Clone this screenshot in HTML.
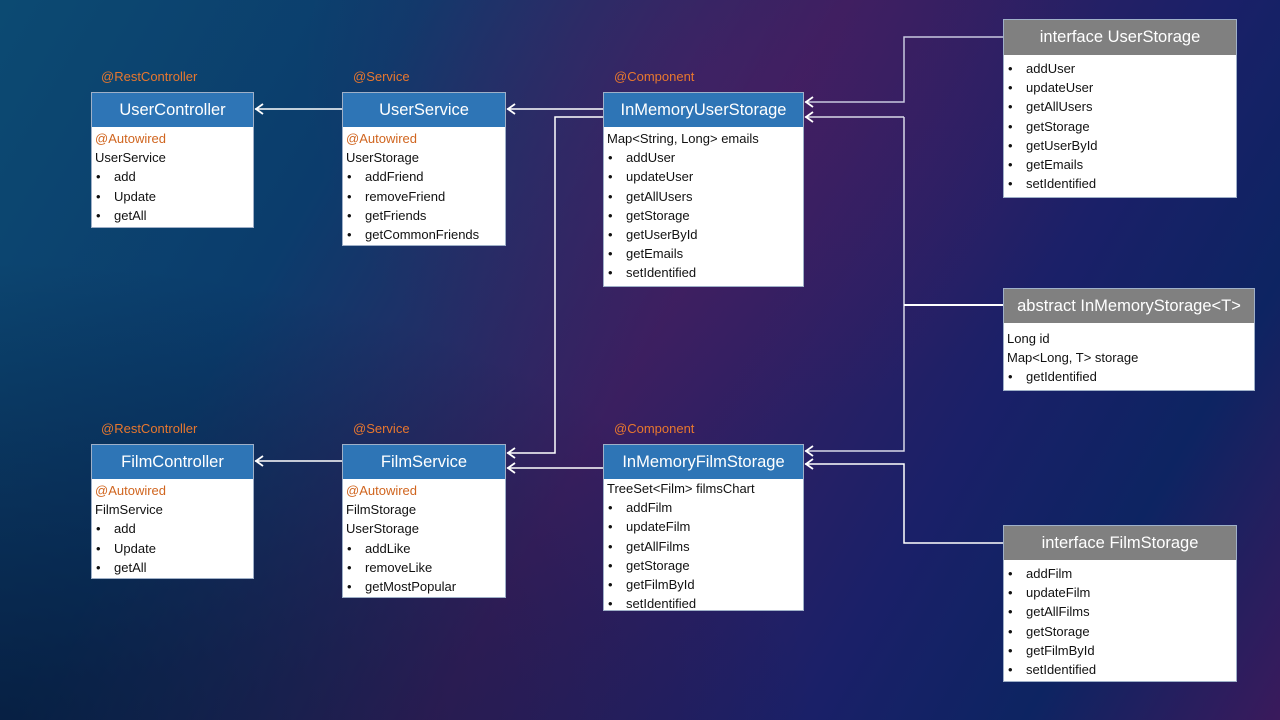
<!DOCTYPE html>
<html><head><meta charset="utf-8"><style>
body{margin:0;width:1280px;height:720px;overflow:hidden;font-family:"Liberation Sans",sans-serif;
background:linear-gradient(120deg,#0c4a72 0%,#0b3c6c 25%,#3a1f60 50%,#1a2068 72%,#0d2462 85%,#3a1a5c 100%);position:relative}
.bg2{position:absolute;inset:0;background:radial-gradient(ellipse at 0% 100%,rgba(5,20,50,.7),transparent 45%),radial-gradient(ellipse at 55% 10%,rgba(80,30,100,.45),transparent 40%)}
.box{position:absolute;background:#fff;border:1px solid #9fb0c8;box-sizing:border-box}
.h{color:#fff;font-size:16.5px;text-align:center;line-height:34px;height:34px;white-space:nowrap}
.blue{background:#2e75b6}.gray{background:#808080}
.b{padding:2px 3px 0 3px;font-size:13px;line-height:19.2px;color:#111;white-space:nowrap}
.b .o{color:#d0651f}
.b .li{padding-left:19px;position:relative}
.b .li:before{content:"•";position:absolute;left:1px}
.ann{position:absolute;color:#e8772e;font-size:13px}
svg{position:absolute;left:0;top:0}
</style></head><body><div class="bg2"></div>
<svg width="1280" height="720" fill="none" stroke="#fff" stroke-width="1.5">
<path d="M342 109H255M603 109H507M603 117H555V453H507M342 461H255M603 468H507"/>
<path d="M1003 37H904V102H805" stroke="#c8c8e0"/>
<path d="M904 117H805M904 117V451H805" stroke="#d8d8e8"/>
<path d="M1003 305H904" stroke-width="2"/>
<path d="M1003 543H904V464H805"/>
<g stroke-width="1.8">
<path d="M263 104l-7 5 7 5M515 104l-7 5 7 5M515 448l-7 5 7 5M263 456l-7 5 7 5M515 463l-7 5 7 5M813 97l-7 5 7 5M813 112l-7 5 7 5M813 446l-7 5 7 5M813 459l-7 5 7 5"/>
</g>
</svg>
<div class="ann" style="left:101px;top:69px">@RestController</div>
<div class="ann" style="left:353px;top:69px">@Service</div>
<div class="ann" style="left:614px;top:69px">@Component</div>
<div class="ann" style="left:101px;top:421px">@RestController</div>
<div class="ann" style="left:353px;top:421px">@Service</div>
<div class="ann" style="left:614px;top:421px">@Component</div>

<div class="box" style="left:91px;top:92px;width:163px;height:136px"><div class="h blue">UserController</div><div class="b"><div class="o">@Autowired</div><div>UserService</div><div class="li">add</div><div class="li">Update</div><div class="li">getAll</div></div></div>
<div class="box" style="left:342px;top:92px;width:164px;height:154px"><div class="h blue">UserService</div><div class="b"><div class="o">@Autowired</div><div>UserStorage</div><div class="li">addFriend</div><div class="li">removeFriend</div><div class="li">getFriends</div><div class="li">getCommonFriends</div></div></div>
<div class="box" style="left:603px;top:92px;width:201px;height:195px"><div class="h blue">InMemoryUserStorage</div><div class="b"><div>Map&lt;String, Long&gt; emails</div><div class="li">addUser</div><div class="li">updateUser</div><div class="li">getAllUsers</div><div class="li">getStorage</div><div class="li">getUserById</div><div class="li">getEmails</div><div class="li">setIdentified</div></div></div>
<div class="box" style="left:1003px;top:19px;width:234px;height:179px"><div class="h gray" style="height:35px">interface UserStorage</div><div class="b" style="padding-top:4px"><div class="li">addUser</div><div class="li">updateUser</div><div class="li">getAllUsers</div><div class="li">getStorage</div><div class="li">getUserById</div><div class="li">getEmails</div><div class="li">setIdentified</div></div></div>
<div class="box" style="left:1003px;top:288px;width:252px;height:103px"><div class="h gray">abstract InMemoryStorage&lt;T&gt;</div><div class="b" style="padding-top:6px"><div>Long id</div><div>Map&lt;Long, T&gt; storage</div><div class="li">getIdentified</div></div></div>

<div class="box" style="left:91px;top:444px;width:163px;height:135px"><div class="h blue">FilmController</div><div class="b"><div class="o">@Autowired</div><div>FilmService</div><div class="li">add</div><div class="li">Update</div><div class="li">getAll</div></div></div>
<div class="box" style="left:342px;top:444px;width:164px;height:154px"><div class="h blue">FilmService</div><div class="b"><div class="o">@Autowired</div><div>FilmStorage</div><div>UserStorage</div><div class="li">addLike</div><div class="li">removeLike</div><div class="li">getMostPopular</div></div></div>
<div class="box" style="left:603px;top:444px;width:201px;height:167px"><div class="h blue">InMemoryFilmStorage</div><div class="b" style="padding-top:0"><div>TreeSet&lt;Film&gt; filmsChart</div><div class="li">addFilm</div><div class="li">updateFilm</div><div class="li">getAllFilms</div><div class="li">getStorage</div><div class="li">getFilmById</div><div class="li">setIdentified</div></div></div>
<div class="box" style="left:1003px;top:525px;width:234px;height:157px"><div class="h gray">interface FilmStorage</div><div class="b" style="padding-top:4px"><div class="li">addFilm</div><div class="li">updateFilm</div><div class="li">getAllFilms</div><div class="li">getStorage</div><div class="li">getFilmById</div><div class="li">setIdentified</div></div></div>
</body></html>
